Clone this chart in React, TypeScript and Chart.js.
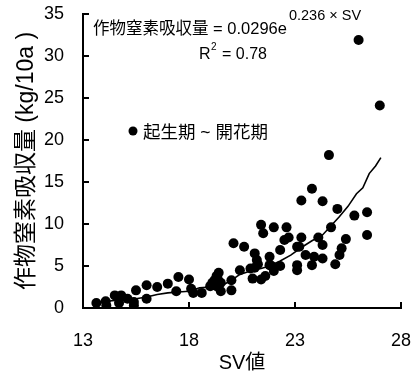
import React, { useEffect, useRef } from "react";
import { Chart, registerables } from "chart.js";

Chart.register(...registerables);

const svValues = [
  13.63, 14.07, 14.1, 14.5, 14.7, 14.8, 15.1, 15.4, 15.4, 15.5,
  16.0, 16.0, 16.5, 17.0, 17.4, 17.5, 18.0, 18.1, 18.2, 18.6,
  19.0, 19.2, 19.3, 19.4, 19.5, 19.5, 19.3, 20.0, 20.0, 20.1,
  20.4, 20.6, 20.9, 21.0, 21.1, 21.2, 21.1, 21.4, 21.5, 21.4,
  21.6, 21.8, 22.0, 21.9, 22.0, 22.3, 22.3, 22.5, 22.6, 22.7,
  23.1, 23.1, 23.1, 23.3, 23.3, 23.2, 23.5, 23.8, 23.8, 23.9,
  24.1, 24.3, 24.3, 24.3, 24.6, 24.7, 24.9, 25.0, 25.1, 25.2,
  25.4, 25.8, 26.0, 26.4, 26.4, 27.0, 19.1, 19.35, 21.25, 21.8,
];
const nUptake = [
  0.6, 0.8, 0.3, 1.5, 0.6, 1.5, 1.1, 0.7, 0.3, 2.1,
  1.1, 2.7, 2.5, 2.9, 2.0, 3.7, 3.4, 2.3, 1.8, 1.8,
  2.6, 3.3, 3.8, 4.2, 3.0, 2.0, 2.6, 3.3, 2.1, 7.7,
  4.5, 7.3, 4.7, 3.5, 6.5, 5.7, 4.8, 9.9, 8.9, 3.4,
  3.8, 6.1, 9.6, 5.0, 4.4, 5.0, 6.9, 8.1, 9.6, 8.4,
  7.3, 5.1, 4.5, 8.4, 12.8, 7.3, 6.3, 14.2, 5.1, 6.1,
  8.4, 12.7, 7.5, 5.9, 18.2, 9.6, 5.2, 11.8, 6.3, 7.1,
  8.2, 11.0, 31.9, 11.4, 8.7, 24.1, 3.0, 3.5, 5.2, 5.1,
];

const trendSV = [
  13.6, 14.1, 14.5, 15.0, 15.5, 16.0, 16.5, 17.0, 17.5, 18.0,
  18.5, 19.0, 19.5, 20.0, 20.4, 21.0, 21.4, 21.8, 22.3, 22.8,
  23.3, 23.8, 24.3, 24.7, 25.1, 25.5, 25.9, 26.2, 26.5, 26.8, 27.05,
];
const trendN = [
  0.6, 0.8, 0.9, 1.0, 1.1, 1.3, 1.6, 1.8, 1.9, 2.0,
  2.4, 2.5, 2.6, 3.3, 4.0, 4.5, 4.7, 5.0, 5.6, 6.3,
  7.2, 8.0, 8.7, 9.8, 10.9, 12.1, 13.6, 14.3, 16.0, 16.9, 17.9,
];

const xTicks = [13, 18, 23, 28];
const yTicks = [0, 5, 10, 15, 20, 25, 30, 35];

const xTitle = "SV値";
const yTitle = "作物窒素吸収量 (kg/10a )";
const seriesLabel = "起生期 ~ 開花期";
const eqMain = "作物窒素吸収量 = 0.0296e";
const eqExp = "0.236 × SV";
const r2Text = "= 0.78";

const FONT = '"Liberation Sans", Arial, "Noto Sans CJK JP", sans-serif';

const overlayPlugin = {
  id: "overlay",
  afterDraw(chart: any) {
    const ctx = chart.ctx;
    const xs = chart.scales.x;
    const ys = chart.scales.y;
    ctx.save();
    ctx.strokeStyle = "#000";
    ctx.lineWidth = 2;
    const tl = 6;
    xTicks.forEach((v) => {
      const px = Math.round(xs.getPixelForValue(v));
      ctx.beginPath();
      ctx.moveTo(px, ys.bottom);
      ctx.lineTo(px, ys.bottom - tl);
      ctx.stroke();
    });
    yTicks.forEach((v) => {
      const py = Math.round(ys.getPixelForValue(v));
      ctx.beginPath();
      ctx.moveTo(xs.left, py);
      ctx.lineTo(xs.left + tl, py);
      ctx.stroke();
    });
    ctx.fillStyle = "#000";
    ctx.textBaseline = "alphabetic";
    ctx.textAlign = "left";
    ctx.font = `16.5px ${FONT}`;
    ctx.fillText(eqMain, 93, 34);
    const w = ctx.measureText(eqMain).width;
    ctx.font = `14.5px ${FONT}`;
    ctx.fillText(eqExp, 93 + w + 2, 20);
    ctx.font = `16px ${FONT}`;
    ctx.fillText("R", 199, 59);
    ctx.font = `10px ${FONT}`;
    ctx.fillText("2", 211, 50);
    ctx.font = `16px ${FONT}`;
    ctx.fillText(r2Text, 222, 59);
    ctx.beginPath();
    ctx.arc(133, 131, 4.5, 0, Math.PI * 2);
    ctx.fill();
    ctx.font = `17.5px ${FONT}`;
    ctx.textBaseline = "middle";
    ctx.fillText(seriesLabel, 143, 133);
    ctx.restore();
  },
};

export default function App() {
  const ref = useRef<HTMLCanvasElement | null>(null);
  useEffect(() => {
    if (!ref.current) return;
    const chart = new Chart(ref.current, {
      type: "scatter",
      data: {
        datasets: [
          {
            label: "trend",
            type: "line",
            data: trendSV.map((x, i) => ({ x, y: trendN[i] })),
            borderColor: "#000",
            borderWidth: 1.6,
            pointRadius: 0,
            fill: false,
            tension: 0,
          } as any,
          {
            label: seriesLabel,
            data: svValues.map((x, i) => ({ x, y: nUptake[i] })),
            backgroundColor: "#000",
            borderColor: "#000",
            pointRadius: 5,
            pointBorderWidth: 0,
          },
        ],
      },
      options: {
        animation: false,
        responsive: false,
        layout: { padding: { top: 14, right: 13, left: 0, bottom: 0 } },
        plugins: { legend: { display: false }, tooltip: { enabled: false } },
        scales: {
          x: {
            type: "linear",
            min: 13,
            max: 28,
            afterBuildTicks: (s: any) => {
              s.ticks = xTicks.map((v) => ({ value: v }));
            },
            afterFit: (s: any) => {
              s.height = 68;
              s.paddingLeft = 0;
              s.paddingRight = 0;
            },
            grid: { display: false },
            border: { display: true, color: "#000", width: 2 },
            ticks: {
              color: "#000",
              font: { family: FONT, size: 18 },
              padding: 14,
              maxRotation: 0,
            },
            title: {
              display: true,
              text: xTitle,
              color: "#000",
              font: { family: FONT, size: 20 },
              padding: { top: 0, bottom: 1 },
            },
          },
          y: {
            type: "linear",
            min: 0,
            max: 35,
            afterBuildTicks: (s: any) => {
              s.ticks = yTicks.map((v) => ({ value: v }));
            },
            afterFit: (s: any) => {
              s.width = 83;
              s.paddingTop = 0;
              s.paddingBottom = 0;
            },
            grid: { display: false, drawTicks: false },
            border: { display: true, color: "#000", width: 2 },
            ticks: {
              color: "#000",
              font: { family: FONT, size: 18 },
              padding: 19,
            },
            title: {
              display: true,
              text: yTitle,
              color: "#000",
              font: { family: FONT, size: 23 },
              padding: { top: 13, bottom: 0 },
            },
          },
        },
      },
      plugins: [overlayPlugin],
    });
    return () => chart.destroy();
  }, []);
  return (
    <div style={{ position: "fixed", left: 0, top: 0, width: 414, height: 376, background: "#fff" }}>
      <canvas ref={ref} width={414} height={376} style={{ width: 414, height: 376 }} />
    </div>
  );
}
